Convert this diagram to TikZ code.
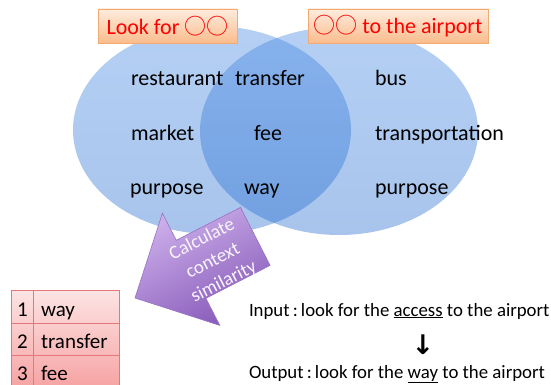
\documentclass[tikz,border=0pt]{standalone}
\usepackage{fontspec}
\setmainfont{Carlito}
\newfontfamily\cjk{Noto Sans CJK JP}
\newfontfamily\sym{DejaVu Sans}
\usetikzlibrary{shadows}

\definecolor{venn}{RGB}{60,130,225}
\definecolor{venndark}{RGB}{25,100,205}
\definecolor{tagtop}{RGB}{254,236,222}
\definecolor{tagbot}{RGB}{250,188,140}
\definecolor{tagline}{RGB}{242,170,115}
\definecolor{purlight}{RGB}{205,175,235}
\definecolor{purdark}{RGB}{135,90,185}
\definecolor{purline}{RGB}{150,115,195}
\definecolor{tbltop}{RGB}{253,228,228}
\definecolor{tblbot}{RGB}{246,160,160}
\definecolor{tblline}{RGB}{228,120,120}

\begin{document}
\begin{tikzpicture}[x=1pt,y=1pt,
  every node/.style={inner sep=0pt, outer sep=0pt},
  word/.style={anchor=base west, font=\fontsize{22}{26}\selectfont},
  tag/.style={rectangle, minimum height=34pt, top color=tagtop, bottom color=tagbot,
    draw=tagline, line width=0.8pt, drop shadow={opacity=0.25, shadow xshift=1pt, shadow yshift=-1.5pt},
    text=red, font=\fontsize{22}{26}\selectfont},
  cell/.style={anchor=base west, font=\fontsize{21}{25}\selectfont},
  line/.style={anchor=base west, font=\fontsize{18.8}{22}\selectfont}]
\useasboundingbox (0,-385) rectangle (551,0);

% two sets
\shade[top color=venn, bottom color=venndark, fill opacity=0.38] (212,-130) ellipse [x radius=139, y radius=104];
\shade[top color=venn, bottom color=venndark, fill opacity=0.38] (339,-131) ellipse [x radius=139, y radius=104];

\node[word] (rest) at (131,-86) {restaurant};
\node[word] (trans) at (235,-86) {transfer};
\node[word] (bus) at (375,-86) {bus};
\node[word] (market) at (131,-140) {market};
\node[word] (fee) at (254,-140) {fee};
\node[word] (transp) at (375,-140) {transportation};
\node[word] (purpL) at (130,-194) {purpose};
\node[word] (way) at (244,-194) {way};
\node[word] (purpR) at (375,-194) {purpose};

\node[tag, minimum width=139pt] (lookfor) at (167.5,-26) {Look for {\cjk ○○}};
\node[tag, minimum width=180pt] (toair) at (398,-26) {{\cjk ○○} to the airport};

% block arrow
\shade[top color=purlight, bottom color=purdark, shading angle=27, draw=purline, line width=0.6pt]
  (135,-298) -- (219.8,-325.4) -- (205.9,-298.3) -- (270.1,-265.4) -- (240.5,-207.4)
  -- (176.3,-240.3) -- (162.4,-213.2) -- cycle;
\node[rotate=27, align=center, text=white!88!purlight, font=\fontsize{19}{24}\selectfont]
  (calc) at (213,-261) {Calculate\\context\\similarity};

% ranking
\shade[top color=tbltop, bottom color=tblbot] (11,-290) rectangle (119,-392);
\draw[tblline, line width=0.8pt] (11,-392) -- (11,-290) -- (119,-290) -- (119,-392);
\draw[tblline, line width=0.8pt] (11,-323) -- (119,-323) (11,-355) -- (119,-355) (33,-290) -- (33,-392);
\node[cell] (n1) at (17,-316) {1};
\node[cell] (w1) at (41,-316) {way};
\node[cell] (n2) at (17,-348) {2};
\node[cell] (w2) at (41,-348) {transfer};
\node[cell] (n3) at (17,-380) {3};
\node[cell] (w3) at (41,-380) {fee};

\node[line] (input) at (249,-316) {Input\,:\,look for the \underline{access} to the airport};
\node[font=\sym\bfseries\fontsize{27}{30}\selectfont] (down) at (423,-345) {↓};
\node[line] (output) at (249,-378) {Output\,:\,look for the \underline{way} to the airport};
\end{tikzpicture}
\end{document}
